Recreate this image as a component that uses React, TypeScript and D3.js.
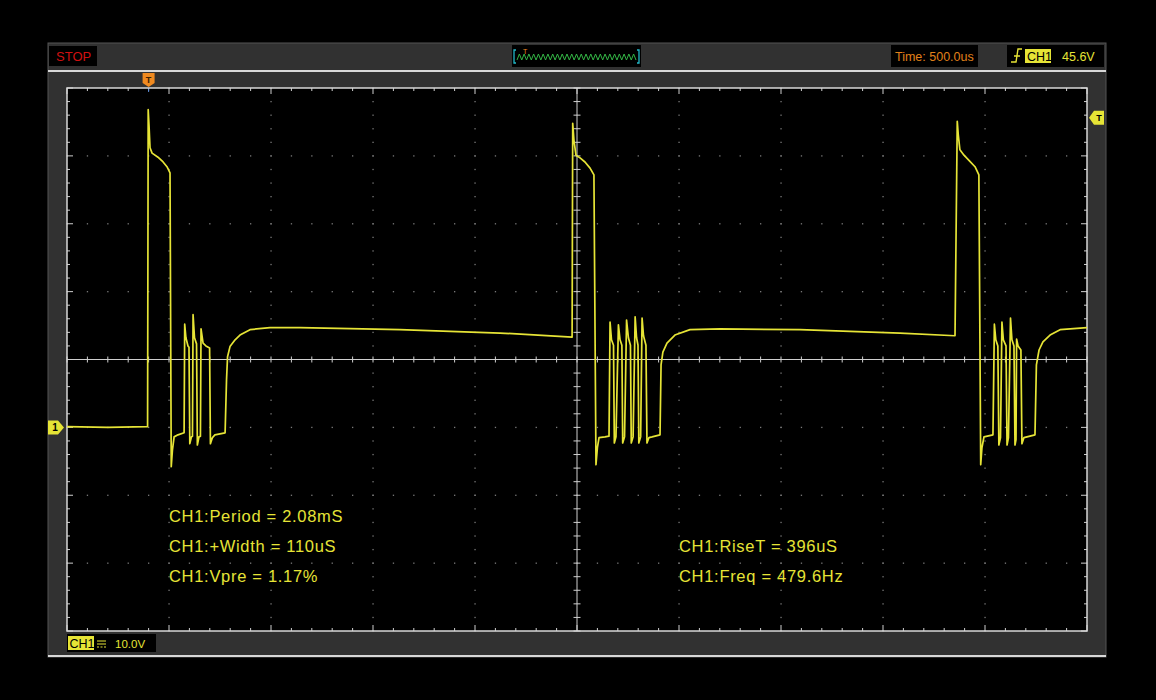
import * as d3 from 'd3';

// CH1 trace: time in us (0 = trigger), volts
const traceTimeUs = [
  -400, -200, -5, -2, 2, 7, 17, 46, 71, 90, 105,
  111, 117, 125, 144, 174,
  177, 183, 193, 198, 202, 210, 215,
  218, 225, 235, 239, 247, 254,
  257, 267, 281, 299, 303, 313, 325, 375,
  382, 387, 399, 424, 448, 497, 595, 742, 1232, 1723, 2076,
  2079, 2085, 2095, 2115, 2139, 2164, 2183,
  2193, 2200, 2208, 2237, 2257,
  2262, 2269, 2279, 2283, 2291,
  2303, 2311, 2320, 2324, 2333,
  2343, 2352, 2362, 2366, 2375,
  2385, 2392, 2399, 2403, 2412,
  2419, 2426, 2438, 2443, 2453, 2468, 2507,
  2512, 2521, 2541, 2580, 2654, 2801, 3193, 3683, 3953,
  3964, 3969, 3977, 3997, 4026, 4051, 4070,
  4079, 4085, 4095, 4139,
  4146, 4153, 4163, 4168, 4176,
  4183, 4190, 4203, 4208, 4215,
  4225, 4232, 4242, 4247, 4252,
  4255, 4262, 4276, 4281, 4291, 4345,
  4352, 4365, 4384, 4419, 4468, 4600,
];
const traceVolts = [
  0.1, 0.0, 0.1, 46.8, 44.5, 41.2, 40.4, 39.8, 39.1, 38.4, 37.5,
  -5.8, -3.3, -1.4, -1.1, -0.8,
  15.2, 13.2, 12.0, 11.8, -2.4, -1.4, -1.3,
  16.6, 13.2, 12.3, -2.6, -1.4, -1.3,
  14.5, 12.4, 12.0, 11.7, -2.4, -1.5, -1.1, -0.8,
  7.0, 10.4, 11.9, 12.9, 13.6, 14.4, 14.7, 14.7, 14.4, 13.9, 13.3,
  44.8, 42.3, 40.1, 39.7, 39.1, 38.2, 37.2,
  -5.5, -3.0, -1.5, -1.4, -1.3,
  15.5, 12.9, 12.1, -2.3, -1.4,
  15.1, 12.9, 12.1, -2.3, -1.4,
  15.8, 13.2, 12.1, -2.3, -1.4,
  16.3, 13.2, 12.1, -2.3, -1.4,
  16.1, 13.5, 12.1, -2.3, -1.5, -1.4, -1.1,
  9.2, 11.1, 12.4, 13.6, 14.4, 14.5, 14.4, 13.9, 13.5,
  45.1, 43.1, 40.9, 40.1, 39.2, 38.4, 37.2,
  -5.5, -3.0, -1.4, -1.1,
  15.2, 12.9, 12.0, -2.6, -1.5,
  15.5, 12.9, 12.0, -2.6, -1.5,
  16.1, 12.9, 12.0, -2.6, -1.8,
  13.0, 12.0, 11.4, -2.4, -1.5, -1.1,
  9.2, 11.4, 12.6, 13.6, 14.4, 14.7,
];

const measureLeft = ['CH1:Period = 2.08mS', 'CH1:+Width = 110uS', 'CH1:Vpre = 1.17%'];
const measureRight = ['CH1:RiseT = 396uS', 'CH1:Freq = 479.6Hz'];
const timeBaseLabel = 'Time: 500.0us';
const trigLevelLabel = '45.6V';
const chScaleLabel = '10.0V';
const trigTime = 0;
const trigLevel = 45.6;

const YEL = '#e6e436';
const PANEL = '#313131';
const font = '"Liberation Sans", Arial, sans-serif';

export default function App() {
  const L = 67, R = 1087, T = 88, B = 631;
  const x = d3.scaleLinear().domain([-400, 4600]).range([L, R]);
  const y = d3.scaleLinear().domain([-30, 50]).range([B, T]);

  const xMinor = d3.range(-400, 4601, 100);
  const xMajor = d3.range(-400, 4601, 500);
  const yMinor = d3.range(-30, 50.01, 2);
  const yMajor = d3.range(-30, 51, 10);
  const cx = x(2100), cy = y(10);
  const isXMajor = (t: number) => (t + 400) % 500 === 0;
  const isYMajor = (v: number) => Math.abs((v + 30) % 10) < 1e-6;

  const line = d3.line<number>()
    .x((_, i) => x(traceTimeUs[i]))
    .y((d) => y(d));

  const dots: JSX.Element[] = [];
  xMajor.slice(1, -1).forEach((t) => {
    if (t === 2100) return;
    yMinor.forEach((v, j) => dots.push(<rect key={`v${t}_${j}`} x={x(t) - 0.6} y={y(v) - 0.6} width={1.3} height={1.3} fill="#7a7a7a" />));
  });
  yMajor.slice(1, -1).forEach((v) => {
    if (v === 10) return;
    xMinor.forEach((t, j) => dots.push(<rect key={`h${v}_${j}`} x={x(t) - 0.6} y={y(v) - 0.6} width={1.3} height={1.3} fill="#7a7a7a" />));
  });

  // overview window zigzag
  const zig: string[] = [];
  d3.range(0, 51).forEach((k) => zig.push(`${517 + k * 2.38},${k % 2 ? 54 : 60}`));

  const tg = x(trigTime);
  const ty = y(trigLevel);
  const gy = y(0);

  return (
    <svg width={1156} height={700} style={{ position: 'fixed', left: 0, top: 0, background: '#000' }}>
      <rect x={0} y={0} width={1156} height={700} fill="#000" />
      {/* instrument panel */}
      <rect x={48} y={43} width={1058} height={614} fill={PANEL} stroke="#555" strokeWidth={1} />
      <line x1={48} x2={1106} y1={71} y2={71} stroke="#d8d8d8" strokeWidth={2} />
      <line x1={48} x2={1106} y1={656} y2={656} stroke="#d8d8d8" strokeWidth={2} />

      {/* top bar */}
      <rect x={49} y={46} width={48} height={20} fill="#000" />
      <text x={56} y={61} fill="#d01010" fontFamily={font} fontSize={13}>STOP</text>
      <rect x={512} y={45} width={129} height={22} fill="#000" />
      <polyline points={zig.join(' ')} fill="none" stroke="#33b545" strokeWidth={1} />
      <path d="M516,50 H514 V63 H516 M637,50 H639 V63 H637" fill="none" stroke="#22b8c8" strokeWidth={1.3} />
      <text x={523} y={54} fill="#f08a20" fontFamily={font} fontSize={7}>T</text>
      <rect x={891} y={45} width={87} height={22} fill="#000" />
      <text x={895} y={61} fill="#e0801a" fontFamily={font} fontSize={12.5}>{timeBaseLabel}</text>
      <rect x={1007} y={45} width={97} height={22} fill="#000" />
      <path d="M1011,62 H1016 L1018,49 H1022 M1014,56 L1020,56" fill="none" stroke={YEL} strokeWidth={1.4} />
      <rect x={1025} y={49} width={26} height={14} fill={YEL} />
      <text x={1027} y={60.5} fill="#000" fontFamily={font} fontSize={12.5}>CH1</text>
      <text x={1062} y={61} fill={YEL} fontFamily={font} fontSize={12.5}>{trigLevelLabel}</text>

      {/* trigger markers */}
      <path d={`M${tg - 6},73 H${tg + 6} V83 L${tg},87 L${tg - 6},83 Z`} fill="#f08a20" />
      <text x={tg} y={83} textAnchor="middle" fill="#3a2000" fontFamily={font} fontSize={9} fontWeight="bold">T</text>
      <path d={`M${R + 2},${ty} L${R + 7},${ty - 7} H${R + 17} V${ty + 7} H${R + 7} Z`} fill={YEL} />
      <text x={R + 12} y={ty + 3.5} textAnchor="middle" fill="#000" fontFamily={font} fontSize={9} fontWeight="bold">T</text>
      <path d={`M48,${gy - 7} H58 L64,${gy} L58,${gy + 7} H48 Z`} fill={YEL} />
      <text x={55} y={gy + 3.5} textAnchor="middle" fill="#000" fontFamily={font} fontSize={10} fontWeight="bold">1</text>

      {/* plot area */}
      <rect x={L} y={T} width={R - L} height={B - T} fill="#000" />
      {dots}
      <g stroke="#cfcfcf" strokeWidth={1}>
        <line x1={L} x2={R} y1={cy} y2={cy} />
        <line x1={cx} x2={cx} y1={T} y2={B} />
        {xMinor.map((t) => (
          <g key={`xt${t}`}>
            <line x1={x(t)} x2={x(t)} y1={T} y2={T + (isXMajor(t) ? 6 : 3)} />
            <line x1={x(t)} x2={x(t)} y1={B} y2={B - (isXMajor(t) ? 6 : 3)} />
            <line x1={x(t)} x2={x(t)} y1={cy - 3} y2={cy + 3} />
          </g>
        ))}
        {yMinor.map((v) => (
          <g key={`yt${v}`}>
            <line x1={L} x2={L + (isYMajor(v) ? 6 : 3)} y1={y(v)} y2={y(v)} />
            <line x1={R} x2={R - (isYMajor(v) ? 6 : 3)} y1={y(v)} y2={y(v)} />
            <line x1={cx - 3.5} x2={cx + 3.5} y1={y(v)} y2={y(v)} />
          </g>
        ))}
      </g>
      <line x1={tg} x2={tg} y1={T} y2={T + 4} stroke="#5a8ad8" strokeWidth={1} />
      <rect x={L} y={T} width={R - L} height={B - T} fill="none" stroke="#d8d8d8" strokeWidth={1.5} />

      <clipPath id="plotclip"><rect x={L} y={T} width={R - L} height={B - T} /></clipPath>
      <path d={line(traceVolts) ?? ''} fill="none" stroke={YEL} strokeWidth={1.7} strokeLinejoin="round" clipPath="url(#plotclip)" />

      {/* measurements */}
      {measureLeft.map((s, i) => (
        <text key={s} x={169} y={522 + i * 30} fill={YEL} fontFamily={font} fontSize={16.5} letterSpacing={0.7}>{s}</text>
      ))}
      {measureRight.map((s, i) => (
        <text key={s} x={679} y={552 + i * 30} fill={YEL} fontFamily={font} fontSize={16.5} letterSpacing={0.7}>{s}</text>
      ))}

      {/* bottom bar */}
      <rect x={67} y={634} width={89} height={18} fill="#000" />
      <rect x={68} y={636} width={26} height={14} fill={YEL} />
      <text x={69.5} y={647.5} fill="#000" fontFamily={font} fontSize={12.5}>CH1</text>
      <path d="M97,641 H106 M97,644 H106 M97,647 h2 m1.5,0 h2 m1.5,0 h2" fill="none" stroke={YEL} strokeWidth={1} />
      <text x={115} y={648} fill={YEL} fontFamily={font} fontSize={11.5}>{chScaleLabel}</text>
    </svg>
  );
}
